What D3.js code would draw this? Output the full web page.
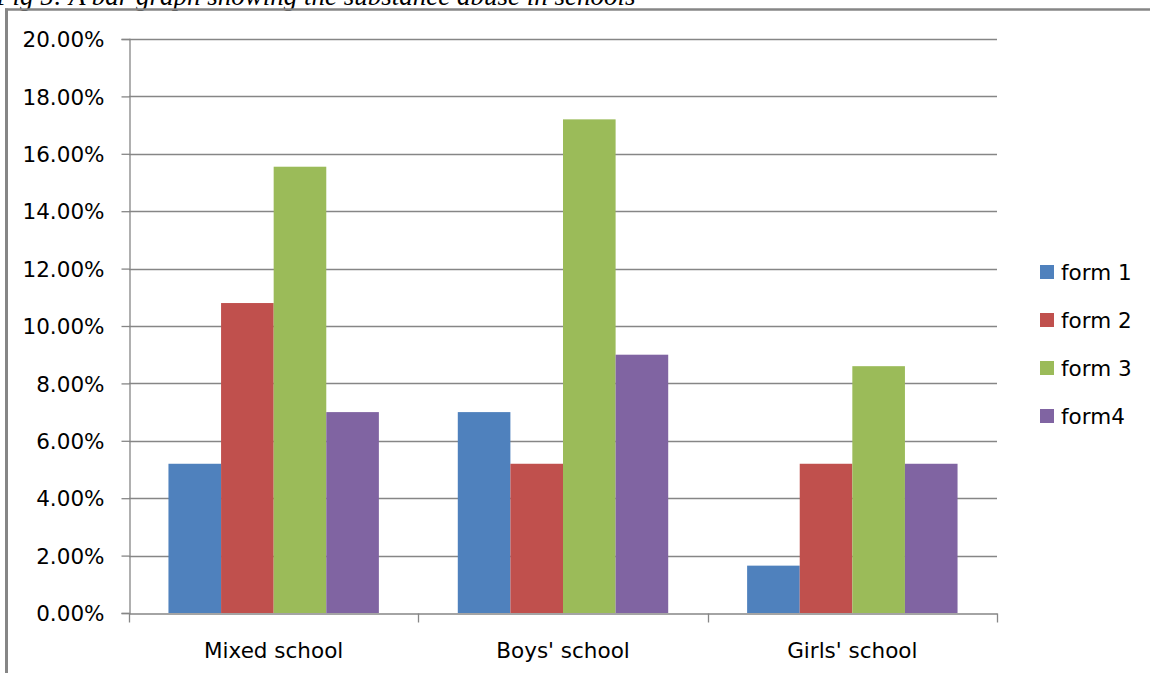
<!DOCTYPE html>
<html>
<head>
<meta charset="utf-8">
<script src="https://cdn.jsdelivr.net/npm/d3@7"></script>
<style>
  html, body { margin: 0; padding: 0; background: #fff; }
  svg { display: block; }
</style>
</head>
<body>
<svg id="chart" width="1150" height="673"></svg>
<script>
// Data: share of pupils reporting substance abuse, by school type and form
const categories = ["Mixed school", "Boys' school", "Girls' school"];
const seriesNames = ["form 1", "form 2", "form 3", "form4"];
const form1 = [0.052, 0.070, 0.0165];
const form2 = [0.108, 0.052, 0.052];
const form3 = [0.1555, 0.172, 0.086];
const form4 = [0.070, 0.090, 0.052];
const seriesValues = [form1, form2, form3, form4];
const yTicks = [0, 0.02, 0.04, 0.06, 0.08, 0.10, 0.12, 0.14, 0.16, 0.18, 0.20];
const colors = ["#4F81BD", "#C0504D", "#9BBB59", "#8064A2"];
const caption = "Fig 5: A bar graph showing the substance abuse in schools";

const svg = d3.select("#chart");
const font = "'DejaVu Sans', sans-serif";
const gridColor = "#868686";

const plot = { left: 129, right: 997, top: 39, bottom: 613 };

const x = d3.scaleBand().domain(categories).range([plot.left, plot.right]).padding(0);
const bw = x.bandwidth();
// gap between groups is 1.5 bar widths
const barW = bw / 5.5;
const xs = d3.scaleBand().domain(seriesNames).range([barW * 0.75, barW * 4.75]).padding(0);
const y = d3.scaleLinear().domain([0, 0.20]).range([plot.bottom, plot.top]);

// caption, running off the page top
svg.append("text")
  .attr("x", -4).attr("y", 5)
  .attr("font-family", "'Liberation Serif', serif")
  .attr("font-style", "italic")
  .attr("font-size", 27)
  .attr("fill", "#000")
  .text(caption);

// outer frame
svg.append("line").attr("x1", 5).attr("x2", 1150).attr("y1", 9.5).attr("y2", 9.5)
  .attr("stroke", gridColor).attr("stroke-width", 2.5);
svg.append("line").attr("x1", 6.5).attr("x2", 6.5).attr("y1", 8.5).attr("y2", 673)
  .attr("stroke", gridColor).attr("stroke-width", 3);

// horizontal gridlines
svg.append("g").selectAll("line").data(yTicks.filter(d => d > 0)).join("line")
  .attr("x1", plot.left).attr("x2", plot.right)
  .attr("y1", d => Math.round(y(d)) + 0.5).attr("y2", d => Math.round(y(d)) + 0.5)
  .attr("stroke", gridColor).attr("stroke-width", 1.3);

// bars
const groups = svg.append("g").selectAll("g").data(categories).join("g")
  .attr("transform", c => `translate(${x(c)},0)`);
groups.selectAll("rect")
  .data((c, ci) => seriesNames.map((s, si) => ({ s, si, v: seriesValues[si][ci] })))
  .join("rect")
  .attr("x", d => xs(d.s))
  .attr("width", xs.bandwidth())
  .attr("y", d => y(d.v))
  .attr("height", d => y(0) - y(d.v))
  .attr("fill", d => colors[d.si]);

// y axis
const yAxis = d3.axisLeft(y).tickValues(yTicks).tickSize(8)
  .tickFormat(d => (d * 100).toFixed(2) + "%").tickPadding(17);
const gy = svg.append("g").attr("transform", `translate(${plot.left + 0.5},0)`).call(yAxis);
gy.select(".domain").attr("stroke", gridColor).attr("stroke-width", 1.3);
gy.selectAll(".tick line").attr("stroke", gridColor).attr("stroke-width", 1.3);
gy.selectAll(".tick text").attr("font-family", font).attr("font-size", 21.5)
  .attr("fill", "#000").attr("dy", "0.36em");

// x axis
const gx = svg.append("g").attr("transform", `translate(0,${plot.bottom + 0.5})`)
  .call(d3.axisBottom(x).tickSize(0).tickPadding(0));
gx.select(".domain").attr("stroke", gridColor).attr("stroke-width", 1.3);
gx.selectAll(".tick text").attr("font-family", font).attr("font-size", 21.5)
  .attr("fill", "#000").attr("dy", 0).attr("y", 44);
// category boundary tick marks
const bounds = categories.map(c => x(c)).concat([plot.right]);
gx.append("g").selectAll("line").data(bounds).join("line")
  .attr("x1", d => Math.round(d) + 0.5).attr("x2", d => Math.round(d) + 0.5)
  .attr("y1", 0).attr("y2", 9)
  .attr("stroke", gridColor).attr("stroke-width", 1.3);

// legend
const legend = svg.append("g").selectAll("g").data(seriesNames).join("g")
  .attr("transform", (d, i) => `translate(1040,${272 + i * 48})`);
legend.append("rect").attr("x", 0).attr("y", -7).attr("width", 14).attr("height", 14)
  .attr("fill", (d, i) => colors[i]);
legend.append("text").attr("x", 21).attr("y", 0).attr("dy", "0.36em")
  .attr("font-family", font).attr("font-size", 21.5).attr("fill", "#000")
  .text(d => d);
</script>
</body>
</html>
